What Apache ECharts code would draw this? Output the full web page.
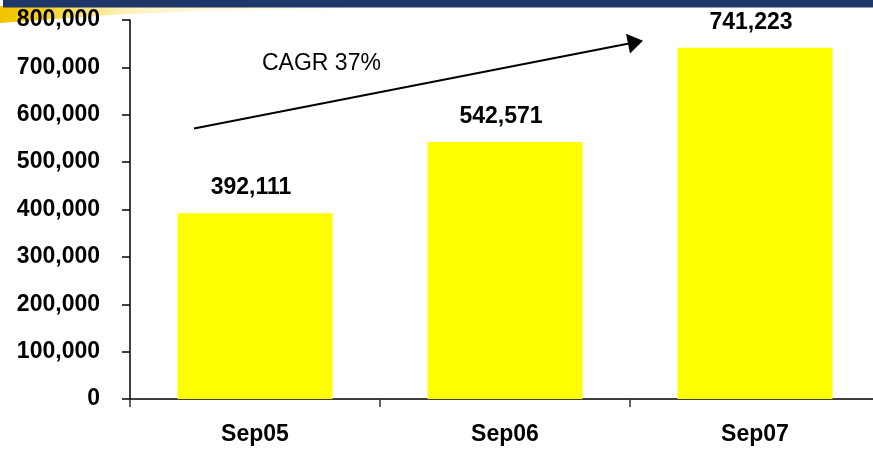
<!DOCTYPE html>
<html>
<head>
<meta charset="utf-8">
<script src="https://cdn.jsdelivr.net/npm/echarts@6/dist/echarts.min.js"></script>
<style>
  html, body { margin: 0; padding: 0; background: #ffffff; overflow: hidden; width: 873px; height: 451px; }
  /* canvas is a little wider than the page so the last category band runs past the right edge */
  #chart { width: 900px; height: 451px; }
</style>
</head>
<body>
<div id="chart"></div>
<script>
// Subscriber totals by September of each year
const categories = ['Sep05', 'Sep06', 'Sep07'];
const subscribers = [392111, 542571, 741223];
const yTicks = [0, 100000, 200000, 300000, 400000, 500000, 600000, 700000, 800000];
const growthNote = 'CAGR 37%';

const FONT = 'Arial, "Liberation Sans", sans-serif';
const fmt = v => Number(v).toLocaleString('en-US');

const chart = echarts.init(document.getElementById('chart'), null, { renderer: 'canvas' });

chart.setOption({
  backgroundColor: '#ffffff',
  animation: false,
  grid: { left: 130, top: 20, width: 750, height: 379, containLabel: false },
  xAxis: {
    type: 'category',
    data: categories,
    boundaryGap: true,
    axisLine: { show: true, lineStyle: { color: '#000000', width: 1.5 } },
    axisTick: { show: true, alignWithLabel: false, length: 8, lineStyle: { color: '#333333', width: 1.5 } },
    axisLabel: { color: '#000000', fontFamily: FONT, fontWeight: 'bold', fontSize: 23, margin: 24 },
    splitLine: { show: false }
  },
  yAxis: {
    type: 'value',
    min: yTicks[0],
    max: yTicks[yTicks.length - 1],
    interval: yTicks[1] - yTicks[0],
    axisLine: { show: true, lineStyle: { color: '#000000', width: 1.5 } },
    axisTick: { show: true, inside: false, length: 8, lineStyle: { color: '#000000', width: 1.5 } },
    axisLabel: { color: '#000000', fontFamily: FONT, fontWeight: 'bold', fontSize: 23, margin: 30, formatter: fmt },
    splitLine: { show: false }
  },
  series: [{
    type: 'bar',
    data: subscribers,
    barWidth: '62%',
    itemStyle: { color: '#ffff00' },
    label: {
      show: true,
      position: 'top',
      distance: 14,
      offset: [-4, 0],
      color: '#000000',
      fontFamily: FONT,
      fontWeight: 'bold',
      fontSize: 23,
      formatter: p => fmt(p.value)
    }
  }],
  graphic: [
    // header band with a gold swoosh underneath
    {
      type: 'polygon',
      silent: true,
      shape: { points: [[0, 6], [430, 6], [430, 8], [200, 11], [110, 15], [40, 20], [0, 23]] },
      style: {
        fill: new echarts.graphic.LinearGradient(0, 0, 1, 0, [
          { offset: 0, color: '#f0c300' },
          { offset: 0.1, color: '#f4cf20' },
          { offset: 0.3, color: 'rgba(250,235,150,0.6)' },
          { offset: 1, color: 'rgba(255,250,220,0)' }
        ])
      }
    },
    {
      type: 'rect',
      silent: true,
      shape: { x: 3, y: 0, width: 900, height: 7.5 },
      style: { fill: '#1f3768' }
    },
    // growth arrow and note
    {
      type: 'line',
      silent: true,
      shape: { x1: 194, y1: 128.5, x2: 629, y2: 43.5 },
      style: { stroke: '#000000', lineWidth: 1.8 }
    },
    {
      type: 'polygon',
      silent: true,
      shape: { points: [[643, 40.7], [626, 33.8], [630, 53.4]] },
      style: { fill: '#000000' }
    },
    {
      type: 'text',
      silent: true,
      x: 262,
      y: 64,
      style: {
        text: growthNote,
        fill: '#000000',
        font: 'normal 23px ' + FONT,
        textAlign: 'left',
        textVerticalAlign: 'middle'
      }
    }
  ]
});
</script>
</body>
</html>
